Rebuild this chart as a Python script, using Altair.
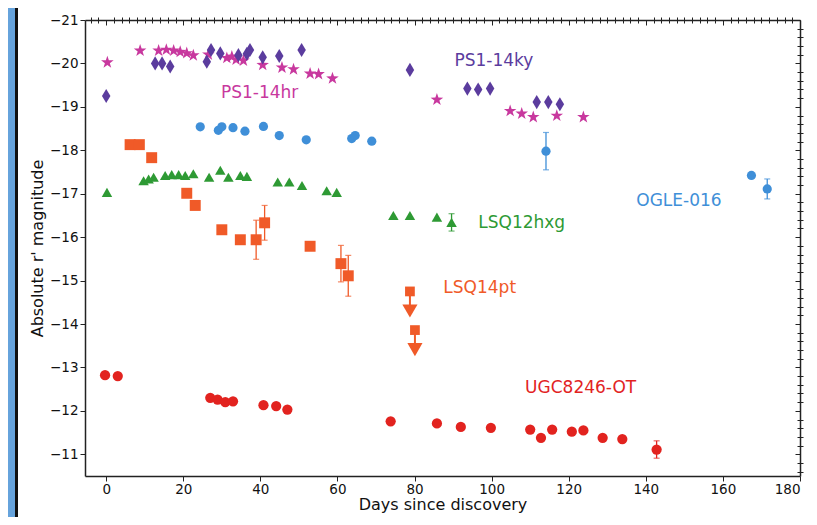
import math
import altair as alt
import pandas as pd

# ---------------- data ----------------
# PS1-14ky (purple thin diamonds)
ky_day = [0.0, 12.7, 14.5, 16.6, 26.1, 27.2, 29.6, 34.3, 36.5, 37.3, 40.6, 44.9, 50.7,
          78.8, 93.7, 96.5, 99.6, 111.7, 114.7, 117.7]
ky_mag = [-19.25, -20.0, -20.0, -19.93, -20.04, -20.31, -20.23, -20.19, -20.22, -20.31, -20.14,
          -20.17, -20.31, -19.85, -19.42, -19.40, -19.42, -19.11, -19.11, -19.06]

# PS1-14hr (magenta stars)
hr_day = [0.3, 8.8, 13.6, 15.6, 17.5, 19.2, 20.9, 22.6, 26.5, 31.3, 32.6, 33.7, 35.6, 40.6,
          45.6, 48.6, 52.9, 55.1, 58.7, 85.8, 104.8, 107.8, 110.8, 116.9, 123.8]
hr_mag = [-20.04, -20.31, -20.31, -20.33, -20.31, -20.28, -20.25, -20.2, -20.22, -20.14, -20.17,
          -20.1, -20.08, -19.98, -19.92, -19.88, -19.78, -19.77, -19.67, -19.18, -18.92, -18.86,
          -18.78, -18.81, -18.78]

# OGLE-016 (blue circles)
og_day = [24.4, 29.1, 30.0, 32.9, 36.0, 40.8, 44.9, 51.9, 63.7, 64.6, 68.9, 114.1, 167.4, 171.5]
og_mag = [-18.54, -18.46, -18.54, -18.52, -18.44, -18.55, -18.34, -18.24, -18.27, -18.34, -18.21,
          -17.98, -17.42, -17.11]
og_err = [0, 0, 0, 0, 0, 0, 0, 0, 0, 0, 0, 0.43, 0, 0.23]

# LSQ12hxg (green triangles)
hx_day = [0.2, 9.7, 11.0, 12.3, 15.3, 17.0, 18.8, 20.5, 22.6, 26.7, 29.6, 31.7, 34.8, 36.5,
          44.5, 47.5, 50.8, 57.2, 59.8, 74.5, 78.8, 85.8, 89.6]
hx_mag = [-17.03, -17.30, -17.34, -17.38, -17.42, -17.44, -17.44, -17.42, -17.46, -17.38, -17.54,
          -17.38, -17.42, -17.40, -17.27, -17.27, -17.19, -17.07, -17.03, -16.50, -16.50, -16.46,
          -16.34]
hx_err = [0] * 22 + [0.2]

# LSQ14pt (orange squares) + two upper limits
pt_day = [6.2, 8.6, 11.8, 20.9, 23.1, 30.0, 34.8, 38.9, 41.1, 52.9, 60.9, 62.8]
pt_mag = [-18.13, -18.13, -17.83, -17.01, -16.73, -16.17, -15.94, -15.94, -16.33, -15.79,
          -15.39, -15.11]
pt_err = [0, 0, 0, 0, 0, 0, 0, 0.45, 0.4, 0, 0.42, 0.47]
lim_day = [78.8, 80.1]
lim_mag = [-14.75, -13.86]
lim_len = [0.45, 0.45]

# UGC8246-OT (red circles)
ug_day = [-0.3, 3.0, 27.0, 28.9, 30.9, 32.9, 40.8, 44.1, 47.0, 73.8, 85.8, 92.0, 99.8, 110.0,
          112.8, 115.7, 120.8, 123.8, 128.8, 133.9, 142.8]
ug_mag = [-12.82, -12.80, -12.30, -12.26, -12.20, -12.22, -12.13, -12.11, -12.03, -11.76, -11.71,
          -11.63, -11.61, -11.57, -11.38, -11.57, -11.52, -11.55, -11.38, -11.35, -11.11]
ug_err = [0] * 20 + [0.2]

# labels
lab_text = ["PS1-14ky", "PS1-14hr", "OGLE-016", "LSQ12hxg", "LSQ14pt", "UGC8246-OT"]
lab_day = [100.6, 39.8, 148.6, 107.8, 96.9, 123.1]
lab_mag = [-20.05, -19.33, -16.84, -16.33, -14.82, -12.52]

SERIES = ["PS1-14ky", "PS1-14hr", "OGLE-016", "LSQ12hxg", "LSQ14pt", "UGC8246-OT"]
COLORS = ["#5b3c9e", "#c8389e", "#3f8fd8", "#2e9a34", "#f05a28", "#e2231f"]

x_major = [0, 20, 40, 60, 80, 100, 120, 140, 160, 180]
y_major = [-21, -20, -19, -18, -17, -16, -15, -14, -13, -12, -11]
x_minor = [v for v in range(-4, 181, 2) if v % 20 != 0]
y_minor = [round(-21 + 0.2 * i, 1) for i in range(53) if i % 5 != 0]

# ---------------- tables ----------------
rows = []
def add(name, days, mags, errs=None):
    for i, (d, m) in enumerate(zip(days, mags)):
        e = errs[i] if errs else 0.0
        rows.append({"series": name, "day": d, "mag": m, "err": e,
                     "lo": m - e, "hi": m + e})

add("PS1-14ky", ky_day, ky_mag)
add("PS1-14hr", hr_day, hr_mag)
add("OGLE-016", og_day, og_mag, og_err)
add("LSQ12hxg", hx_day, hx_mag, hx_err)
add("LSQ14pt", pt_day, pt_mag, pt_err)
add("UGC8246-OT", ug_day, ug_mag, ug_err)
df = pd.DataFrame(rows)
errdf = df[df["err"] > 0].copy()

limdf = pd.DataFrame({"day": lim_day, "mag": lim_mag,
                      "end": [m + l for m, l in zip(lim_mag, lim_len)],
                      "series": ["LSQ14pt"] * len(lim_day)})
labdf = pd.DataFrame({"text": lab_text, "day": lab_day, "mag": lab_mag, "series": SERIES})

# ---------------- chart ----------------
W, H = 715, 456
FONT = "DejaVu Sans"
xs = alt.Scale(domain=[-5.5, 180], nice=False, zero=False)
ys = alt.Scale(domain=[-21, -10.5], reverse=True, nice=False, zero=False)
cscale = alt.Scale(domain=SERIES, range=COLORS)

def star_path(n=5, inner=0.39):
    pts = []
    for k in range(2 * n):
        r = 1.0 if k % 2 == 0 else inner
        a = math.radians(-90 + k * 180.0 / n)
        pts.append((r * math.cos(a), r * math.sin(a) + 0.1))
    return "M" + "L".join(f"{x:.3f},{y:.3f}" for x, y in pts) + "Z"

THIN_DIAMOND = "M0,-1L0.6,0L0,1L-0.6,0Z"

# decorative blue strip with black edge at the far left of the picture
strip = alt.Chart(pd.DataFrame({"a": [0]})).mark_rect(
    fill="#66a3dc", stroke="#111", strokeWidth=3, clip=False
).encode(x=alt.value(-100), x2=alt.value(-68.5), y=alt.value(-40), y2=alt.value(H + 80))

def axis_layer(xaxis, yaxis):
    return alt.Chart(df).mark_point(opacity=0).encode(
        x=alt.X("day:Q", scale=xs, axis=xaxis),
        y=alt.Y("mag:Q", scale=ys, axis=yaxis))

common = dict(grid=False, tickColor="#222", domainColor="#222")
ax_main = axis_layer(
    alt.Axis(values=x_major, format="d", tickSize=5, labelPadding=1, domain=True,
             domainWidth=1.5, title="Days since discovery", titlePadding=1, **common),
    alt.Axis(values=y_major, format="d", tickSize=5, labelPadding=2, domain=True,
             domainWidth=1.5, title="Absolute r' magnitude", titlePadding=4, **common))
ax_minor = axis_layer(
    alt.Axis(values=x_minor, tickSize=3, labels=False, domain=False, title=None, **common),
    alt.Axis(values=y_minor, tickSize=3, labels=False, domain=False, title=None, **common))
ax_far = axis_layer(
    alt.Axis(orient="bottom", offset=-H, values=x_major, tickSize=5, labels=False,
             domain=True, domainWidth=1.5, title=None, **common),
    alt.Axis(orient="left", offset=-W, values=y_major, tickSize=5, labels=False,
             domain=True, domainWidth=1.5, title=None, **common))
ax_far_minor = axis_layer(
    alt.Axis(orient="bottom", offset=-H, values=x_minor, tickSize=3, labels=False,
             domain=False, title=None, **common),
    alt.Axis(orient="left", offset=-W, values=y_minor, tickSize=3, labels=False,
             domain=False, title=None, **common))

def pts(name, shape, size):
    col = COLORS[SERIES.index(name)]
    return alt.Chart(df).transform_filter(alt.datum.series == name).mark_point(
        shape=shape, size=size, filled=True, color=col, opacity=1
    ).encode(x=alt.X("day:Q", scale=xs, axis=None), y=alt.Y("mag:Q", scale=ys, axis=None))

err_rules = alt.Chart(errdf).mark_rule(strokeWidth=1.3).encode(
    x=alt.X("day:Q", scale=xs, axis=None), y=alt.Y("lo:Q", scale=ys, axis=None), y2="hi:Q",
    color=alt.Color("series:N", scale=cscale, legend=None))
cap_lo = alt.Chart(errdf).mark_tick(orient="horizontal", size=6, thickness=1.2).encode(
    x=alt.X("day:Q", scale=xs, axis=None), y=alt.Y("lo:Q", scale=ys, axis=None),
    color=alt.Color("series:N", scale=cscale, legend=None))
cap_hi = alt.Chart(errdf).mark_tick(orient="horizontal", size=6, thickness=1.2).encode(
    x=alt.X("day:Q", scale=xs, axis=None), y=alt.Y("hi:Q", scale=ys, axis=None),
    color=alt.Color("series:N", scale=cscale, legend=None))

lim_rule = alt.Chart(limdf).mark_rule(strokeWidth=2, color=COLORS[4]).encode(
    x=alt.X("day:Q", scale=xs, axis=None), y=alt.Y("mag:Q", scale=ys, axis=None), y2="end:Q")
lim_head = alt.Chart(limdf).mark_point(shape="triangle-down", size=230, filled=True,
                                       color=COLORS[4], opacity=1).encode(
    x=alt.X("day:Q", scale=xs, axis=None), y=alt.Y("end:Q", scale=ys, axis=None))
lim_sq = alt.Chart(limdf).mark_point(shape="square", size=95, filled=True,
                                     color=COLORS[4], opacity=1).encode(
    x=alt.X("day:Q", scale=xs, axis=None), y=alt.Y("mag:Q", scale=ys, axis=None))

labels = alt.Chart(labdf).mark_text(font=FONT, fontSize=17, align="center",
                                    baseline="middle").encode(
    x=alt.X("day:Q", scale=xs, axis=None), y=alt.Y("mag:Q", scale=ys, axis=None),
    text="text:N", color=alt.Color("series:N", scale=cscale, legend=None))

chart = alt.layer(
    strip, ax_main, ax_minor, ax_far, ax_far_minor,
    err_rules, cap_lo, cap_hi, lim_rule,
    pts("PS1-14hr", star_path(), 175),
    pts("PS1-14ky", THIN_DIAMOND, 200),
    pts("OGLE-016", "circle", 85),
    pts("LSQ12hxg", "triangle-up", 110),
    pts("LSQ14pt", "square", 120),
    lim_head, lim_sq,
    pts("UGC8246-OT", "circle", 105),
    labels,
).resolve_axis(x="independent", y="independent").properties(
    width=W, height=H,
    autosize=alt.AutoSizeParams(type="none"),
    padding={"left": 77, "top": 12, "right": 9, "bottom": 41},
    background="white",
).configure_view(strokeWidth=0).configure_axis(
    labelFont=FONT, titleFont=FONT, labelFontSize=13.5, titleFontSize=16,
    titleFontWeight="normal", labelColor="#111", titleColor="#111"
)

chart.save("out.html", embed_options={"renderer": "svg", "actions": False})
